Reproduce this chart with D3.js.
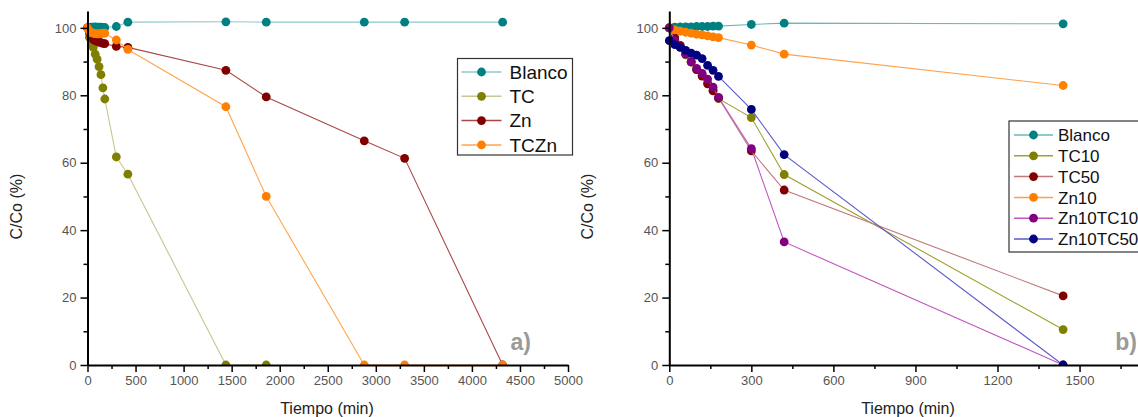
<!DOCTYPE html>
<html>
<head>
<meta charset="utf-8">
<script src="https://cdn.jsdelivr.net/npm/d3@7"></script>
<style>
  html, body { margin: 0; padding: 0; background: #fff; }
  svg { display: block; }
  text { font-family: Arial, "Liberation Sans", sans-serif; }
</style>
</head>
<body>
<svg id="chart" width="1138" height="417"></svg>
<script>
// ---- Panel a): degradation over long times ----
const namesA = ["Blanco", "TC", "Zn", "TCZn"];
const blancoA_t = [0, 20, 40, 60, 80, 100, 120, 140, 160, 180, 300, 420, 1440, 1860, 2880, 3300, 4320];
const blancoA_v = [100, 100.1, 100.2, 100.2, 100.3, 100.2, 100.2, 100.2, 100.1, 100.1, 100.4, 101.7, 101.8, 101.7, 101.7, 101.7, 101.7];
const tcA_t = [0, 20, 40, 60, 80, 100, 120, 140, 160, 180, 300, 420, 1440, 1860];
const tcA_v = [100, 97.2, 95.8, 94.2, 92.2, 90.7, 88.5, 86.1, 82.2, 78.9, 61.7, 56.6, 0, 0];
const znA_t = [0, 20, 40, 60, 80, 100, 120, 140, 160, 180, 300, 420, 1440, 1860, 2880, 3300, 4320];
const znA_v = [100, 98.5, 97.4, 96.6, 96.2, 96.0, 95.8, 95.6, 95.4, 95.3, 94.5, 94.2, 87.4, 79.5, 66.5, 61.3, 0];
const tcznA_t = [0, 20, 40, 60, 80, 100, 120, 140, 160, 180, 300, 420, 1440, 1860, 2880, 3300, 4320];
const tcznA_v = [100, 99.0, 98.6, 98.4, 98.3, 98.2, 98.2, 98.3, 98.4, 98.4, 96.4, 93.6, 76.6, 50.0, 0, 0, 0];

// ---- Panel b): first 24 h ----
const namesB = ["Blanco", "TC10", "TC50", "Zn10", "Zn10TC10", "Zn10TC50"];
const tiemposB = [0, 20, 40, 60, 80, 100, 120, 140, 160, 180, 300, 420, 1440];
const blancoB_v = [100, 100.2, 100.3, 100.3, 100.3, 100.4, 100.4, 100.4, 100.5, 100.5, 101.0, 101.4, 101.2];
const tc10B_v = [100, 96.5, 94.5, 92.0, 89.8, 87.6, 85.9, 83.7, 81.5, 79.0, 73.4, 56.5, 10.5];
const tc50B_v = [100, 97.1, 94.8, 92.4, 89.9, 87.6, 85.7, 83.4, 81.3, 79.2, 63.5, 51.9, 20.5];
const zn10B_v = [100, 99.4, 99.0, 98.7, 98.4, 98.1, 97.9, 97.6, 97.3, 97.1, 94.9, 92.2, 82.9];
const zn10tc10B_v = [100, 96.3, 94.3, 92.2, 90.0, 88.0, 86.5, 84.8, 82.4, 79.4, 64.2, 36.5, 0];
const zn10tc50B_v = [96.2, 95.0, 94.2, 93.3, 92.5, 91.9, 90.9, 88.9, 87.4, 85.6, 75.8, 62.4, 0];

// Axis ticks
const yTicks = [0, 20, 40, 60, 80, 100];
const yMinor = [10, 30, 50, 70, 90];
const xTicksA = [0, 500, 1000, 1500, 2000, 2500, 3000, 3500, 4000, 4500, 5000];
const xMinorA = [250, 750, 1250, 1750, 2250, 2750, 3250, 3750, 4250, 4750];
const xTicksB = [0, 300, 600, 900, 1200, 1500];
const xMinorB = [150, 450, 750, 1050, 1350, 1650];

// Marker and line colours per series
const markerA = ["#008080", "#808000", "#800000", "#ff8000"];
const lineA = ["#8cc9c9", "#c6c690", "#a84848", "#ffa64d"];
const markerB = ["#008080", "#808000", "#800000", "#ff8000", "#800080", "#000080"];
const lineB = ["#6ab9b9", "#a0a030", "#c07878", "#ffa04a", "#c058c0", "#5a5ac8"];

const svg = d3.select("#chart");
const zip = (ts, vs) => ts.map((t, i) => [t, vs[i]]);

const seriesA = [zip(blancoA_t, blancoA_v), zip(tcA_t, tcA_v), zip(znA_t, znA_v), zip(tcznA_t, tcznA_v)];
const seriesB = [blancoB_v, tc10B_v, tc50B_v, zn10B_v, zn10tc10B_v, zn10tc50B_v].map(v => zip(tiemposB, v));

function panel(cfg) {
  const g = svg.append("g");
  const x = d3.scaleLinear().domain(cfg.xDomain).range(cfg.xRange);
  const y = d3.scaleLinear().domain([0, 105]).range([365, 11]);

  // data area is clipped at the x axis, so markers at 0 show as half dots
  const clipId = "clip-" + cfg.label.replace(")", "");
  svg.append("defs").append("clipPath").attr("id", clipId)
    .append("rect").attr("x", x(0) - 10).attr("y", 0)
    .attr("width", cfg.xRange[1] - cfg.xRange[0] + 20).attr("height", y(0));

  const plot = g.append("g").attr("clip-path", `url(#${clipId})`);
  const line = d3.line().x(d => x(d[0])).y(d => y(d[1]));
  cfg.series.forEach((s, i) => {
    plot.append("path").datum(s).attr("d", line)
      .attr("fill", "none").attr("stroke", cfg.lineColors[i]).attr("stroke-width", 1.1);
    plot.append("g").selectAll("circle").data(s).join("circle")
      .attr("cx", d => x(d[0])).attr("cy", d => y(d[1])).attr("r", 4.4)
      .attr("fill", cfg.markerColors[i]);
  });

  const fmt = d3.format("d");
  // minor ticks
  g.append("g").attr("transform", `translate(0,${y(0)})`)
    .call(d3.axisBottom(x).tickValues(cfg.xMinor).tickSize(4).tickFormat(""))
    .call(a => a.select(".domain").remove());
  g.append("g").attr("transform", `translate(${x(0)},0)`)
    .call(d3.axisLeft(y).tickValues(yMinor).tickSize(4).tickFormat(""))
    .call(a => a.select(".domain").remove());

  // major axes
  const ax = g.append("g").attr("transform", `translate(0,${y(0)})`)
    .call(d3.axisBottom(x).tickValues(cfg.xTicks).tickFormat(fmt).tickSize(7).tickSizeOuter(0).tickPadding(4));
  const ay = g.append("g").attr("transform", `translate(${x(0)},0)`)
    .call(d3.axisLeft(y).tickValues(yTicks).tickFormat(fmt).tickSize(7).tickSizeOuter(0).tickPadding(4));
  [ax, ay].forEach(a => {
    a.select(".domain").attr("stroke", "#000").attr("stroke-width", 2);
    a.selectAll(".tick text").attr("fill", "#555").style("font-size", "13px")
      .style("font-family", "Arial, 'Liberation Sans', sans-serif");
  });
  g.selectAll(".tick line").attr("stroke", "#000").attr("stroke-width", 1.5);

  // axis titles
  g.append("text").attr("x", cfg.xTitleX).attr("y", 414).attr("text-anchor", "middle")
    .style("font-size", "16px").attr("fill", "#222").text("Tiempo (min)");
  g.append("text").attr("transform", `translate(${cfg.yTitleX},${y(47)}) rotate(-90)`)
    .attr("text-anchor", "middle").style("font-size", "16px").attr("fill", "#222").text("C/Co (%)");

  // panel label
  g.append("text").attr("x", cfg.labelX).attr("y", 350).attr("text-anchor", "end")
    .style("font-size", "23px").style("font-weight", "bold").attr("fill", "#9a9a9a").text(cfg.label);

  // legend
  const L = cfg.legend;
  const lg = g.append("g");
  lg.append("rect").attr("x", L.x).attr("y", L.y).attr("width", L.w).attr("height", L.h)
    .attr("fill", "#fff").attr("stroke", "#333").attr("stroke-width", 1.2);
  cfg.names.forEach((n, i) => {
    const yy = L.y + L.first + i * L.step;
    lg.append("line").attr("x1", L.x + L.lx0).attr("x2", L.x + L.lx1).attr("y1", yy).attr("y2", yy)
      .attr("stroke", cfg.lineColors[i]).attr("stroke-width", 1.5);
    lg.append("circle").attr("cx", L.x + (L.lx0 + L.lx1) / 2).attr("cy", yy).attr("r", 4.4)
      .attr("fill", cfg.markerColors[i]);
    lg.append("text").attr("x", L.x + L.tx).attr("y", yy).attr("dy", "0.36em")
      .style("font-size", L.fs + "px").attr("fill", "#111").text(n);
  });
}

panel({
  xDomain: [0, 5000], xRange: [87.5, 568],
  xTicks: xTicksA, xMinor: xMinorA,
  series: seriesA, names: namesA, markerColors: markerA, lineColors: lineA,
  xTitleX: 327, yTitleX: 22, label: "a)", labelX: 531,
  legend: { x: 457.5, y: 58.5, w: 115, h: 96.5, first: 13.5, step: 24.3, lx0: 4, lx1: 44, tx: 52, fs: 19 }
});

panel({
  xDomain: [0, 1750], xRange: [669.3, 669.3 + 1750 * 0.2735],
  xTicks: xTicksB, xMinor: xMinorB,
  series: seriesB, names: namesB, markerColors: markerB, lineColors: lineB,
  xTitleX: 908, yTitleX: 593, label: "b)", labelX: 1137,
  legend: { x: 1009, y: 121, w: 140, h: 131, first: 14, step: 20.8, lx0: 5, lx1: 44, tx: 49, fs: 17 }
});
</script>
</body>
</html>
